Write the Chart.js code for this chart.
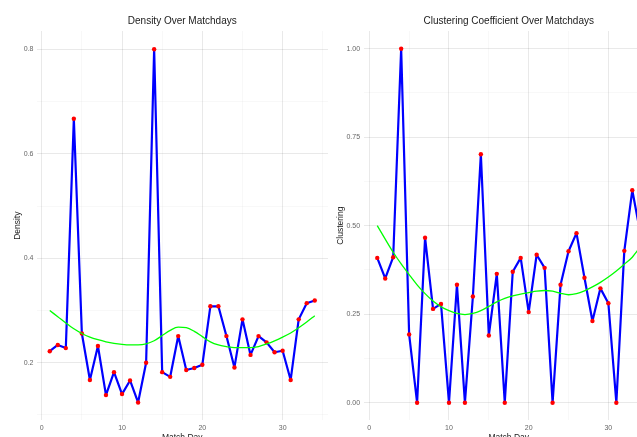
<!DOCTYPE html>
<html>
<head>
<meta charset="utf-8">
<script src="https://cdn.jsdelivr.net/npm/chart.js@4/dist/chart.umd.min.js"></script>
<style>
  html, body { margin: 0; padding: 0; background: #fff; overflow: hidden; width: 637px; height: 437px; }
  #left { position: absolute; left: 0; top: 0; width: 332px; height: 450px; }
  #right { position: absolute; left: 332px; top: 0; width: 328px; height: 450px; }
</style>
</head>
<body>
<div id="left"><canvas id="densityChart"></canvas></div>
<div id="right"><canvas id="clusterChart"></canvas></div>
<script>
const matchDays = [1, 2, 3, 4, 5, 6, 7, 8, 9, 10, 11, 12, 13, 14, 15, 16, 17, 18, 19, 20, 21, 22, 23, 24, 25, 26, 27, 28, 29, 30, 31, 32, 33, 34];

const density = [0.222, 0.234, 0.228, 0.667, 0.256, 0.167, 0.232, 0.138, 0.182, 0.140, 0.166, 0.124, 0.200, 0.800, 0.182, 0.173, 0.251, 0.186, 0.190, 0.196, 0.308, 0.308, 0.251, 0.191, 0.283, 0.215, 0.251, 0.239, 0.220, 0.223, 0.167, 0.283, 0.314, 0.319];
const densityTrend = [0.300, 0.288, 0.276, 0.265, 0.256, 0.249, 0.244, 0.240, 0.237, 0.235, 0.234, 0.234, 0.236, 0.242, 0.252, 0.262, 0.268, 0.267, 0.260, 0.250, 0.240, 0.234, 0.231, 0.229, 0.229, 0.229, 0.231, 0.236, 0.242, 0.249, 0.257, 0.267, 0.278, 0.290];

const clustering = [0.409, 0.351, 0.411, 1.000, 0.193, 0.000, 0.466, 0.265, 0.279, 0.000, 0.333, 0.000, 0.300, 0.702, 0.190, 0.364, 0.000, 0.370, 0.409, 0.256, 0.418, 0.381, 0.000, 0.333, 0.428, 0.479, 0.353, 0.231, 0.323, 0.281, 0.000, 0.429, 0.600, 0.480];
const clusteringTrend = [0.500, 0.462, 0.425, 0.392, 0.362, 0.333, 0.308, 0.287, 0.271, 0.260, 0.252, 0.249, 0.252, 0.260, 0.272, 0.285, 0.295, 0.302, 0.307, 0.311, 0.315, 0.317, 0.315, 0.309, 0.305, 0.308, 0.316, 0.327, 0.340, 0.355, 0.372, 0.391, 0.411, 0.440];

const xTickLabels = ['0', '10', '20', '30'];
const densityTickLabels = ['0.2', '0.4', '0.6', '0.8'];
const clusterTickLabels = ['0.00', '0.25', '0.50', '0.75', '1.00'];

const FONT = "'Liberation Sans', Arial, sans-serif";
const majorGrid = 'rgba(0, 0, 0, 0.085)';
const minorGrid = 'rgba(0, 0, 0, 0.05)';

function toPoints(values) {
    return matchDays.map((d, i) => ({ x: d, y: values[i] }));
}

function makeChart(canvasId, cfg) {
    return new Chart(document.getElementById(canvasId), {
        type: 'line',
        data: {
            datasets: [
                {
                    label: 'trend',
                    data: toPoints(cfg.trend),
                    borderColor: '#00ff00',
                    borderWidth: 1.3,
                    pointRadius: 0,
                    cubicInterpolationMode: 'monotone',
                    fill: false,
                    order: 1
                },
                {
                    label: cfg.yTitle,
                    data: toPoints(cfg.values),
                    borderColor: '#0000ff',
                    borderWidth: 2.2,
                    borderJoinStyle: 'round',
                    borderCapStyle: 'round',
                    pointRadius: 2.2,
                    pointBorderWidth: 0,
                    pointBackgroundColor: '#ff0000',
                    tension: 0,
                    fill: false,
                    order: 2
                }
            ]
        },
        options: {
            responsive: true,
            maintainAspectRatio: false,
            animation: false,
            layout: { padding: { left: 0, right: cfg.padRight, top: 0, bottom: 0 } },
            plugins: {
                legend: { display: false },
                tooltip: { enabled: false },
                title: {
                    display: true,
                    text: cfg.title,
                    fullSize: false,
                    color: '#1a1a1a',
                    font: { family: FONT, size: 10, weight: 'normal' },
                    padding: { top: 15, bottom: 4 }
                }
            },
            scales: {
                x: {
                    type: 'linear',
                    min: -0.65,
                    max: 35.65,
                    border: { display: false },
                    grid: {
                        drawTicks: false,
                        color: ctx => ctx.tick.value % 10 === 0 ? majorGrid : minorGrid,
                        lineWidth: ctx => ctx.tick.value % 10 === 0 ? 1 : 0.6
                    },
                    ticks: {
                        stepSize: 5,
                        includeBounds: false,
                        autoSkip: false,
                        maxRotation: 0,
                        padding: 3,
                        color: '#666',
                        font: { family: FONT, size: 7 },
                        callback: v => xTickLabels.includes(String(v)) ? String(v) : ''
                    },
                    title: {
                        display: true,
                        text: 'Match Day',
                        color: '#1a1a1a',
                        font: { family: FONT, size: 8.5 },
                        padding: { top: 0, bottom: 7 }
                    },
                    afterFit: s => { s.height = 29.6; }
                },
                y: {
                    min: cfg.yMin,
                    max: cfg.yMax,
                    border: { display: false },
                    grid: {
                        drawTicks: false,
                        color: ctx => cfg.isMajor(ctx.tick.value) ? majorGrid : minorGrid,
                        lineWidth: ctx => cfg.isMajor(ctx.tick.value) ? 1 : 0.6
                    },
                    ticks: {
                        stepSize: cfg.yStep,
                        includeBounds: false,
                        autoSkip: false,
                        padding: cfg.yTickPad,
                        color: '#666',
                        font: { family: FONT, size: 7 },
                        callback: v => cfg.isMajor(v) ? cfg.fmt(v) : ''
                    },
                    title: {
                        display: true,
                        text: cfg.yTitle,
                        color: '#1a1a1a',
                        font: { family: FONT, size: 8.5 },
                        padding: { top: cfg.yTitlePad, bottom: 0 }
                    },
                    afterFit: s => { s.width = cfg.yWidth; }
                }
            }
        }
    });
}

makeChart('densityChart', {
    title: 'Density Over Matchdays',
    yTitle: 'Density',
    values: density,
    trend: densityTrend,
    yMin: 0.0896,
    yMax: 0.835,
    yStep: 0.1,
    isMajor: v => densityTickLabels.includes(v.toFixed(1)),
    fmt: v => v.toFixed(1),
    yWidth: 36.5,
    yTickPad: 3,
    yTitlePad: 13,
    padRight: 2.6
});

makeChart('clusterChart', {
    title: 'Clustering Coefficient Over Matchdays',
    yTitle: 'Clustering',
    values: clustering,
    trend: clusteringTrend,
    yMin: -0.05,
    yMax: 1.05,
    yStep: 0.125,
    isMajor: v => clusterTickLabels.includes(v.toFixed(2)),
    fmt: v => v.toFixed(2),
    yWidth: 32.1,
    yTickPad: 4,
    yTitlePad: 4,
    padRight: 6.6
});
</script>
</body>
</html>
